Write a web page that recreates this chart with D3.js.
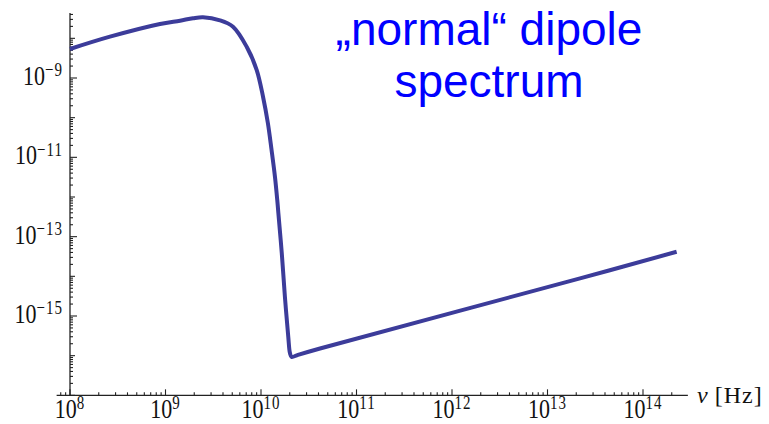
<!DOCTYPE html>
<html>
<head>
<meta charset="utf-8">
<script src="https://cdn.jsdelivr.net/npm/d3@7"></script>
<style>
  body { margin: 0; background: #fff; }
  svg { display: block; }
</style>
</head>
<body>
<div id="chart"></div>
<script>
// frequency (Hz) and spectral power
var freqs = [1.00e8, 2.62e8, 8.75e8, 1.42e9, 1.94e9, 2.47e9, 3.72e9, 5.09e9, 7.08e9, 9.02e9,
             1.05e10, 1.18e10, 1.29e10, 1.40e10, 1.48e10, 1.52e10, 1.65e10, 1.78e10, 1.93e10,
             2.01e10, 2.09e10, 2.44e10, 4.15e10, 2.19e13, 2.25e14];
var power = [5.38e-9, 1.10e-8, 2.30e-8, 2.79e-8, 3.21e-8, 3.40e-8, 2.85e-8, 1.97e-8, 6.15e-9, 1.59e-9,
             3.37e-10, 7.33e-11, 1.53e-11, 3.24e-12, 8.38e-13, 3.93e-13, 3.86e-14, 3.05e-15, 2.99e-16,
             1.16e-16, 9.35e-17, 1.05e-16, 1.52e-16, 8.87e-15, 4.16e-14];

var xTickExp = [8, 9, 10, 11, 12, 13, 14];
var yTickExp = [-9, -11, -13, -15];
var yDecades = [-17, -16, -15, -14, -13, -12, -11, -10, -9, -8];

var titleLines = ["\u201Enormal\u201C dipole", "spectrum"];

var width = 769, height = 424;

var svg = d3.select("#chart").append("svg")
  .attr("width", width)
  .attr("height", height);

var x = d3.scaleLog().domain([1e8, 1e14]).range([70, 643]);
var y = d3.scaleLog().domain([1e-15, 1e-9]).range([316, 78]);

var xLo = Math.pow(10, 7.86), xHi = Math.pow(10, 14.47);
var yLo = 1e-17, yHi = Math.pow(10, -7.36);

var axisColor = "#222";

// axis lines
svg.append("line")
  .attr("x1", x(xLo)).attr("x2", x(xHi))
  .attr("y1", y(yLo)).attr("y2", y(yLo))
  .attr("stroke", axisColor).attr("stroke-width", 1.3);
svg.append("line")
  .attr("x1", x(1e8)).attr("x2", x(1e8))
  .attr("y1", y(yLo)).attr("y2", y(yHi))
  .attr("stroke", axisColor).attr("stroke-width", 1.3);

// x ticks (major + minor 2..9)
var xTicks = [];
for (var e = 7; e <= 14; e++) {
  for (var k = 1; k <= 9; k++) {
    var v = k * Math.pow(10, e);
    if (v >= xLo && v <= xHi) xTicks.push({v: v, major: k == 1});
  }
}
svg.append("g").selectAll("line")
  .data(xTicks).enter().append("line")
  .attr("x1", function(d) { return x(d.v); })
  .attr("x2", function(d) { return x(d.v); })
  .attr("y1", y(yLo))
  .attr("y2", function(d) { return y(yLo) - (d.major ? 6 : 3); })
  .attr("stroke", axisColor).attr("stroke-width", 1.1);

// y ticks
var yTicks = [];
yDecades.forEach(function(e) {
  for (var k = 1; k <= 9; k++) {
    var v = k * Math.pow(10, e);
    if (v >= yLo && v <= yHi) {
      var len = 3;
      if (k == 1) len = (yTickExp.indexOf(e) >= 0) ? 7 : 5;
      yTicks.push({v: v, len: len});
    }
  }
});
svg.append("g").selectAll("line")
  .data(yTicks).enter().append("line")
  .attr("x1", x(1e8))
  .attr("x2", function(d) { return x(1e8) + d.len; })
  .attr("y1", function(d) { return y(d.v); })
  .attr("y2", function(d) { return y(d.v); })
  .attr("stroke", axisColor).attr("stroke-width", 1.1);

function powerLabel(sel, exp) {
  sel.append("tspan").attr("font-size", 22).text("10");
  sel.append("tspan").attr("font-size", 15).attr("dy", -7)
    .attr("letter-spacing", 1)
    .text(String(exp).replace("-", "\u2212"));
}

// x tick labels
svg.append("g").selectAll("text")
  .data(xTickExp).enter().append("text")
  .attr("transform", function(d) { return "translate(" + x(Math.pow(10, d)) + ",418) scale(1,1.24)"; })
  .attr("text-anchor", "middle")
  .attr("font-family", "Liberation Serif, Times New Roman, serif")
  .attr("fill", "#111")
  .each(function(d) { powerLabel(d3.select(this), d); });

// y tick labels
svg.append("g").selectAll("text")
  .data(yTickExp).enter().append("text")
  .attr("transform", function(d) { return "translate(63," + (y(Math.pow(10, d)) + 7) + ") scale(1,1.26)"; })
  .attr("text-anchor", "end")
  .attr("font-family", "Liberation Serif, Times New Roman, serif")
  .attr("fill", "#111")
  .each(function(d) { powerLabel(d3.select(this), d); });

// axis label
var xl = svg.append("text")
  .attr("x", 697).attr("y", 403)
  .attr("font-family", "Liberation Serif, Times New Roman, serif")
  .attr("font-size", 24)
  .attr("fill", "#111");
xl.append("tspan").attr("font-style", "italic").text("\u03BD");
xl.append("tspan").attr("letter-spacing", 1).text(" [Hz]");

// spectrum curve
var pts = freqs.map(function(f, i) { return [f, power[i]]; });
var line = d3.line()
  .x(function(d) { return x(d[0]); })
  .y(function(d) { return y(d[1]); })
  .curve(d3.curveCatmullRom.alpha(0.5));

svg.append("path")
  .datum(pts)
  .attr("d", line)
  .attr("fill", "none")
  .attr("stroke", "#3c3c9a")
  .attr("stroke-width", 4)
  .attr("stroke-linejoin", "round");

// title
svg.append("g").selectAll("text")
  .data(titleLines).enter().append("text")
  .attr("x", 489)
  .attr("y", function(d, i) { return 45 + i * 52; })
  .attr("text-anchor", "middle")
  .attr("font-family", "Liberation Sans, Arial, sans-serif")
  .attr("font-size", 46)
  .attr("fill", "#0000ff")
  .text(function(d) { return d; });
</script>
</body>
</html>
